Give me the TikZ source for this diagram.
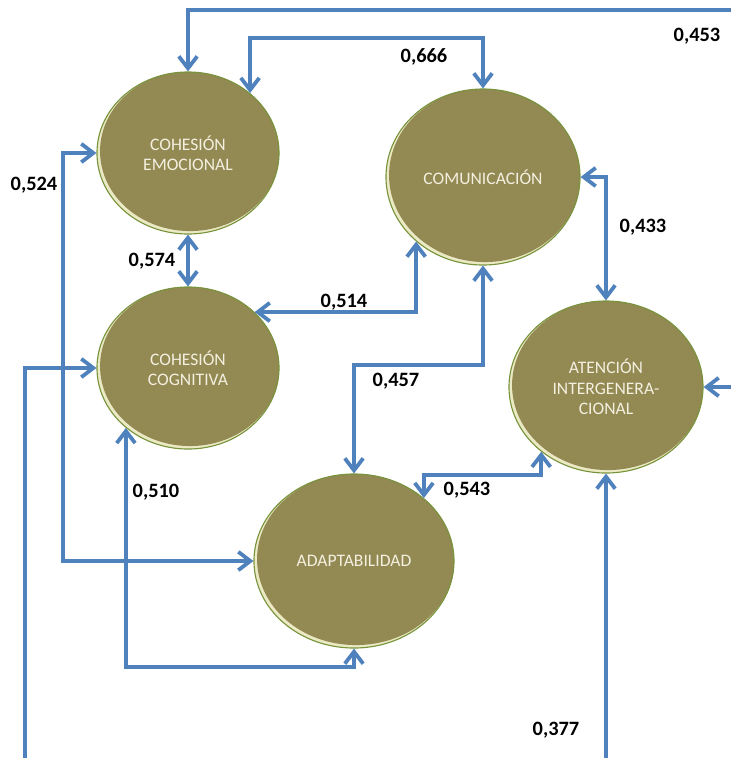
\documentclass[tikz,border=0pt]{standalone}
\usepackage{fontspec}
\setmainfont{Carlito}
\usetikzlibrary{shapes.geometric,arrows.meta}

\definecolor{olivefill}{RGB}{147,137,83}
\definecolor{olivedraw}{RGB}{119,147,60}
\definecolor{rimlight}{RGB}{236,234,196}
\definecolor{linkblue}{RGB}{79,129,189}
\definecolor{bubbletext}{RGB}{243,240,224}

\tikzset{
	bubble/.style 2 args={ellipse, minimum width=#1, minimum height=#2, inner sep=0pt,
		fill=rimlight, draw=olivedraw, line width=0.8pt, text=bubbletext, align=center,
		font=\fontsize{12.5}{14.5}\selectfont,
		path picture={\fill[olivefill] ([shift={(1.4pt,1.3pt)}]path picture bounding box.center)
			ellipse [x radius={#1/2-0.8pt}, y radius={#2/2-0.8pt}];}},
	link/.style={draw=linkblue, line width=2.7pt},
	coef/.style={font=\bfseries\fontsize{14.5}{16}\selectfont}
}

\begin{document}
\begin{tikzpicture}[x=0.025cm, y=-0.025cm, >={Straight Barb[length=3mm,width=4.6mm]}]

	\useasboundingbox (0,0) rectangle (731,758);

	\node[bubble={4.55cm}{4.05cm}] (ce) at (188,153) {COHESIÓN\\EMOCIONAL};
	\node[bubble={4.55cm}{4.05cm}] (cc) at (188,368) {COHESIÓN\\COGNITIVA};
	\node[bubble={4.85cm}{4.4cm}] (com) at (483,177) {COMUNICACIÓN};
	\node[bubble={4.85cm}{4.3cm}] (at) at (606,387) {ATENCIÓN\\INTERGENERA-\\CIONAL};
	\node[bubble={5cm}{4.35cm}] (ad) at (354,561) {ADAPTABILIDAD};

	% bends and loose ends
	\coordinate (t453) at (731,10);
	\coordinate (k666) at (370,38);
	\coordinate (k524) at (63,400);
	\coordinate (k457) at (420,365);
	\coordinate (k543) at (480,475);
	\coordinate (k510) at (240,667);
	\coordinate (b25) at (25,758);
	\coordinate (b377) at (606,758);
	\coordinate (r731) at (731,387);

	\draw[link,->] (t453) -| (ce.north);
	\draw[link,<->] (ce.44) |- (k666) -| (com.north);
	\draw[link,<->] (ce.west) -| (k524) |- (ad.west);
	\draw[link,<->] (ce.south) -- (cc.north);
	\draw[link,<->] (cc.40) -| (com.224);
	\draw[link,<->] (com.south) |- (k457) -| (ad.north);
	\draw[link,<->] (com.east) -| (at.north);
	\draw[link,<->] (ad.42) |- (k543) -| (at.225);
	\draw[link,<->] (cc.224) |- (k510) -| (ad.south);
	\draw[link,->] (b25) |- (cc.west);
	\draw[link,->] (b377) -- (at.south);
	\draw[link,->] (r731) -- (at.east);

	\node[coef] (l453) at (697,36) {0,453};
	\node[coef] (l666) at (424,57) {0,666};
	\node[coef] (l524) at (34,185) {0,524};
	\node[coef] (l574) at (152,261) {0,574};
	\node[coef] (l514) at (344,302) {0,514};
	\node[coef] (l433) at (643,227) {0,433};
	\node[coef] (l457) at (396,381) {0,457};
	\node[coef] (l543) at (467,490) {0,543};
	\node[coef] (l510) at (156,492) {0,510};
	\node[coef] (l377) at (556,730) {0,377};

\end{tikzpicture}
\end{document}
